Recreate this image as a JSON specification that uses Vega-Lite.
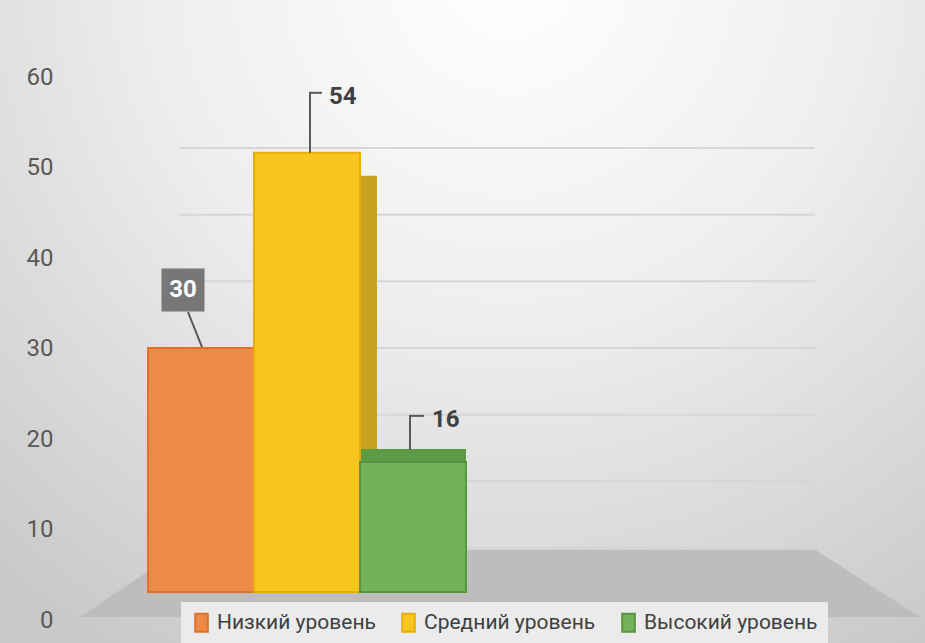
{
  "$schema": "https://vega.github.io/schema/vega-lite/v6.json",
  "width": 925,
  "height": 643,
  "autosize": "none",
  "padding": 0,
  "background": "#ffffff",
  "config": {
    "view": {"stroke": null},
    "font": "Roboto, sans-serif"
  },
  "data": {
    "values": [
      {"level": "Низкий уровень", "value": 30},
      {"level": "Средний уровень", "value": 54},
      {"level": "Высокий уровень", "value": 16}
    ]
  },
  "layer": [
    {
      "data": {"values": [{}]},
      "mark": {
        "type": "rect",
        "fill": {
          "gradient": "radial",
          "x1": 0.55, "y1": 0.12, "r1": 0,
          "x2": 0.55, "y2": 0.12, "r2": 0.85,
          "stops": [
            {"offset": 0, "color": "#ffffff"},
            {"offset": 0.45, "color": "#eeeeee"},
            {"offset": 1, "color": "#c9c9c9"}
          ]
        }
      },
      "encoding": {
        "x": {"value": 0},
        "x2": {"value": "width"},
        "y": {"value": 0},
        "y2": {"value": "height"}
      }
    },
    {
      "data": {"values": [{"part": "floor"}]},
      "mark": {
        "type": "point",
        "filled": true,
        "fill": "#bdbdbd",
        "opacity": 1,
        "strokeWidth": 0,
        "shape": "M -1 0.08 L -0.762 -0.08 L 0.75 -0.08 L 1 0.08 Z",
        "size": 705600
      },
      "encoding": {
        "x": {"datum": 0.504, "type": "quantitative", "scale": {"domain": [-0.2835, 1.1732]}, "axis": null},
        "y": {"datum": -5.32, "type": "quantitative", "scale": {"domain": [-14.25, 82.2]}, "axis": null}
      }
    },
    {
      "data": {"values": [{"v": 0}, {"v": 10}, {"v": 20}, {"v": 30}, {"v": 40}, {"v": 50}, {"v": 60}]},
      "mark": {"type": "rule", "color": "#d6d6d6", "strokeWidth": 2},
      "encoding": {
        "x": {"datum": 0, "type": "quantitative", "scale": {"domain": [-0.2835, 1.1732]}, "axis": null},
        "x2": {"datum": 1},
        "y": {"field": "v", "type": "quantitative", "scale": {"domain": [-14.25, 82.2]}, "axis": null}
      }
    },
    {
      "mark": {"type": "point", "opacity": 0},
      "encoding": {
        "y": {
          "field": "value",
          "type": "quantitative",
          "scale": {"domain": [-2.54, 68.51]},
          "axis": {
            "values": [0, 10, 20, 30, 40, 50, 60],
            "offset": -58,
            "domain": false,
            "ticks": false,
            "grid": false,
            "labelPadding": 5,
            "labelFontSize": 24,
            "labelColor": "#595959",
            "title": null,
            "zindex": 2
          }
        }
      }
    },
    {
      "transform": [{"filter": "datum.level == 'Средний уровень'"}],
      "mark": {"type": "bar", "fill": "#c9a224", "xOffset": 17, "yOffset": 23},
      "encoding": {
        "x": {"field": "level", "type": "nominal", "scale": {"domain": ["Низкий уровень", "Средний уровень", "Высокий уровень"], "range": [148, 466], "paddingInner": 0, "paddingOuter": 0}, "axis": null},
        "y": {"field": "value", "type": "quantitative", "scale": {"domain": [-6.27, 72.79]}, "axis": null},
        "y2": {"datum": 3}
      }
    },
    {
      "transform": [{"filter": "datum.level == 'Высокий уровень'"}],
      "mark": {"type": "bar", "fill": "#5c9a45", "yOffset": -13},
      "encoding": {
        "x": {"field": "level", "type": "nominal", "scale": {"domain": ["Низкий уровень", "Средний уровень", "Высокий уровень"], "range": [148, 466], "paddingInner": 0, "paddingOuter": 0}, "axis": null},
        "y": {"field": "value", "type": "quantitative", "scale": {"domain": [-6.27, 72.79]}, "axis": null},
        "y2": {"datum": 0}
      }
    },
    {
      "mark": {"type": "bar", "strokeWidth": 2, "fillOpacity": 1},
      "encoding": {
        "x": {"field": "level", "type": "nominal", "scale": {"domain": ["Низкий уровень", "Средний уровень", "Высокий уровень"], "range": [148, 466], "paddingInner": 0, "paddingOuter": 0}, "axis": null},
        "y": {"field": "value", "type": "quantitative", "scale": {"domain": [-6.27, 72.79]}, "axis": null},
        "y2": {"datum": 0},
        "fill": {
          "field": "level",
          "type": "nominal",
          "scale": {"domain": ["Низкий уровень", "Средний уровень", "Высокий уровень"], "range": ["#ee8a48", "#fac51c", "#73b259"]},
          "legend": {
            "title": null,
            "orient": "none",
            "direction": "horizontal",
            "legendX": 181,
            "legendY": 602,
            "fillColor": "#ebebeb",
            "padding": 10,
            "labelFontSize": 21,
            "labelColor": "#404040",
            "labelOffset": 5,
            "columnPadding": 22,
            "symbolType": "M -0.7 -1 L 0.7 -1 L 0.7 1 L -0.7 1 Z",
            "symbolSize": 324,
            "symbolStrokeWidth": 2,
            "labelLimit": 400
          }
        },
        "stroke": {
          "field": "level",
          "type": "nominal",
          "scale": {"domain": ["Низкий уровень", "Средний уровень", "Высокий уровень"], "range": ["#e07128", "#e8ac0a", "#55953c"]},
          "legend": {
            "title": null,
            "orient": "none",
            "direction": "horizontal",
            "legendX": 181,
            "legendY": 602,
            "fillColor": "#ebebeb",
            "padding": 10,
            "labelFontSize": 21,
            "labelColor": "#404040",
            "labelOffset": 5,
            "columnPadding": 22,
            "symbolType": "M -0.7 -1 L 0.7 -1 L 0.7 1 L -0.7 1 Z",
            "symbolSize": 324,
            "symbolStrokeWidth": 2,
            "labelLimit": 400
          }
        }
      }
    },
    {
      "transform": [{"filter": "datum.level == 'Низкий уровень'"}],
      "layer": [
        {
          "mark": {"type": "rule", "color": "#595959", "strokeWidth": 2, "xOffset": -13, "x2Offset": 1, "yOffset": -36, "y2Offset": -1},
          "encoding": {
            "x": {"field": "level", "type": "nominal", "scale": {"domain": ["Низкий уровень", "Средний уровень", "Высокий уровень"], "range": [148, 466], "paddingInner": 0, "paddingOuter": 0}, "axis": null},
            "x2": {"field": "level"},
            "y": {"field": "value", "type": "quantitative", "scale": {"domain": [-6.27, 72.79]}, "axis": null},
            "y2": {"field": "value"}
          }
        },
        {
          "mark": {"type": "point", "shape": "square", "filled": true, "size": 1850, "fill": "#777777", "opacity": 1, "xOffset": -18, "yOffset": -58},
          "encoding": {
            "x": {"field": "level", "type": "nominal", "scale": {"domain": ["Низкий уровень", "Средний уровень", "Высокий уровень"], "range": [148, 466], "paddingInner": 0, "paddingOuter": 0}, "axis": null},
            "y": {"field": "value", "type": "quantitative", "scale": {"domain": [-6.27, 72.79]}, "axis": null}
          }
        },
        {
          "mark": {"type": "text", "color": "#ffffff", "fontWeight": "bold", "fontSize": 24, "dx": -18, "dy": -58, "align": "center", "baseline": "middle"},
          "encoding": {
            "x": {"field": "level", "type": "nominal", "scale": {"domain": ["Низкий уровень", "Средний уровень", "Высокий уровень"], "range": [148, 466], "paddingInner": 0, "paddingOuter": 0}, "axis": null},
            "y": {"field": "value", "type": "quantitative", "scale": {"domain": [-6.27, 72.79]}, "axis": null},
            "text": {"field": "value"}
          }
        }
      ]
    },
    {
      "transform": [{"filter": "datum.level == 'Средний уровень'"}],
      "layer": [
        {
          "mark": {"type": "rule", "color": "#595959", "strokeWidth": 2, "xOffset": 3, "y2Offset": -60},
          "encoding": {
            "x": {"field": "level", "type": "nominal", "scale": {"domain": ["Низкий уровень", "Средний уровень", "Высокий уровень"], "range": [148, 466], "paddingInner": 0, "paddingOuter": 0}, "axis": null},
            "y": {"field": "value", "type": "quantitative", "scale": {"domain": [-6.27, 72.79]}, "axis": null},
            "y2": {"field": "value"}
          }
        },
        {
          "mark": {"type": "rule", "color": "#595959", "strokeWidth": 2, "xOffset": 2, "x2Offset": 15, "yOffset": -60},
          "encoding": {
            "x": {"field": "level", "type": "nominal", "scale": {"domain": ["Низкий уровень", "Средний уровень", "Высокий уровень"], "range": [148, 466], "paddingInner": 0, "paddingOuter": 0}, "axis": null},
            "x2": {"field": "level"},
            "y": {"field": "value", "type": "quantitative", "scale": {"domain": [-6.27, 72.79]}, "axis": null}
          }
        },
        {
          "mark": {"type": "text", "color": "#404040", "fontWeight": "bold", "fontSize": 24, "dx": 22, "dy": -56, "align": "left", "baseline": "middle"},
          "encoding": {
            "x": {"field": "level", "type": "nominal", "scale": {"domain": ["Низкий уровень", "Средний уровень", "Высокий уровень"], "range": [148, 466], "paddingInner": 0, "paddingOuter": 0}, "axis": null},
            "y": {"field": "value", "type": "quantitative", "scale": {"domain": [-6.27, 72.79]}, "axis": null},
            "text": {"field": "value"}
          }
        }
      ]
    },
    {
      "transform": [{"filter": "datum.level == 'Высокий уровень'"}],
      "layer": [
        {
          "mark": {"type": "rule", "color": "#595959", "strokeWidth": 2, "xOffset": -3, "yOffset": -12, "y2Offset": -46},
          "encoding": {
            "x": {"field": "level", "type": "nominal", "scale": {"domain": ["Низкий уровень", "Средний уровень", "Высокий уровень"], "range": [148, 466], "paddingInner": 0, "paddingOuter": 0}, "axis": null},
            "y": {"field": "value", "type": "quantitative", "scale": {"domain": [-6.27, 72.79]}, "axis": null},
            "y2": {"field": "value"}
          }
        },
        {
          "mark": {"type": "rule", "color": "#595959", "strokeWidth": 2, "xOffset": -4, "x2Offset": 11, "yOffset": -46},
          "encoding": {
            "x": {"field": "level", "type": "nominal", "scale": {"domain": ["Низкий уровень", "Средний уровень", "Высокий уровень"], "range": [148, 466], "paddingInner": 0, "paddingOuter": 0}, "axis": null},
            "x2": {"field": "level"},
            "y": {"field": "value", "type": "quantitative", "scale": {"domain": [-6.27, 72.79]}, "axis": null}
          }
        },
        {
          "mark": {"type": "text", "color": "#404040", "fontWeight": "bold", "fontSize": 24, "dx": 19, "dy": -42, "align": "left", "baseline": "middle"},
          "encoding": {
            "x": {"field": "level", "type": "nominal", "scale": {"domain": ["Низкий уровень", "Средний уровень", "Высокий уровень"], "range": [148, 466], "paddingInner": 0, "paddingOuter": 0}, "axis": null},
            "y": {"field": "value", "type": "quantitative", "scale": {"domain": [-6.27, 72.79]}, "axis": null},
            "text": {"field": "value"}
          }
        }
      ]
    }
  ],
  "resolve": {"scale": {"x": "independent", "y": "independent"}}
}
